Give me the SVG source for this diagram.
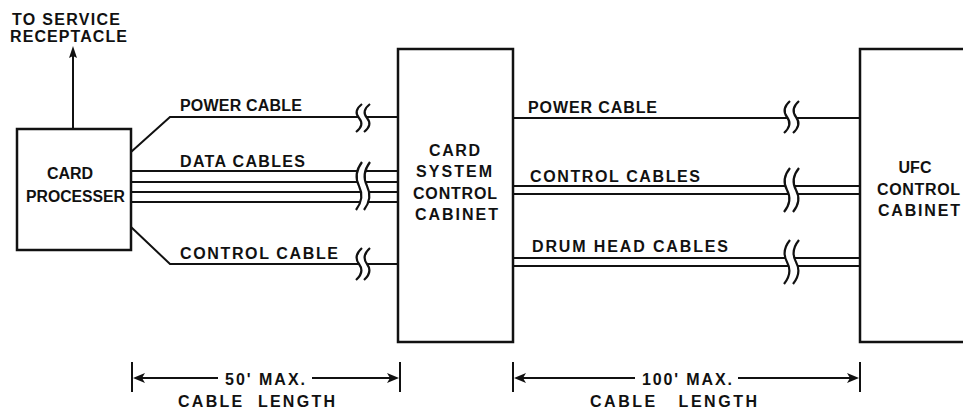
<svg xmlns="http://www.w3.org/2000/svg" width="963" height="415" viewBox="0 0 963 415">
<style>
.ln{fill:none;stroke:#111;stroke-width:2;stroke-linecap:butt}
.bx{fill:#fff;stroke:#111;stroke-width:2.5}
.t{font-family:"Liberation Sans",Arial,sans-serif;font-size:16px;font-weight:bold;fill:#111}
.pre{white-space:pre}
.brk{fill:none;stroke:#111;stroke-width:2.2}
.msk{fill:#fff;stroke:none}
.ah{fill:#111;stroke:none}
</style>
<rect width="963" height="415" fill="#fff"/>
<g id="connectors">
  <path class="ln" d="M73,129 V52"/>
  <polygon class="ah" points="73,46 77,58 73,56 69,58"/>
  <polyline class="ln" points="131,152 170,117 398,117"/>
  <path class="ln" d="M131,171 H398 M131,182 H398 M131,192 H398 M131,202 H398"/>
  <polyline class="ln" points="131,227 170,264 398,264"/>
  <path class="ln" d="M513,118 H860 M513,186 H860 M513,194 H860 M513,258 H860 M513,266 H860"/>
  <g id="breaks">
    <path class="msk" d="M362,104 Q353,111 359,118 Q365,125 356,132 L364,132 Q373,125 367,118 Q361,111 370,104 Z"/>
    <path class="brk" d="M362,104 Q353,111 359,118 Q365,125 356,132 M370,104 Q361,111 367,118 Q373,125 364,132"/>
    <path class="msk" d="M362,162 Q353,174 359,186 Q365,198 356,210 L364,210 Q373,198 367,186 Q361,174 370,162 Z"/>
    <path class="brk" d="M362,162 Q353,174 359,186 Q365,198 356,210 M370,162 Q361,174 367,186 Q373,198 364,210"/>
    <path class="msk" d="M362,248 Q353,256 359,264 Q365,272 356,280 L364,280 Q373,272 367,264 Q361,256 370,248 Z"/>
    <path class="brk" d="M362,248 Q353,256 359,264 Q365,272 356,280 M370,248 Q361,256 367,264 Q373,272 364,280"/>
    <path class="msk" d="M790,101 Q781,109 787,117 Q793,125 784,133 L793,133 Q802,125 796,117 Q790,109 799,101 Z"/>
    <path class="brk" d="M790,101 Q781,109 787,117 Q793,125 784,133 M799,101 Q790,109 796,117 Q802,125 793,133"/>
    <path class="msk" d="M790,168 Q781,179 787,190 Q793,201 784,212 L793,212 Q802,201 796,190 Q790,179 799,168 Z"/>
    <path class="brk" d="M790,168 Q781,179 787,190 Q793,201 784,212 M799,168 Q790,179 796,190 Q802,201 793,212"/>
    <path class="msk" d="M790,240 Q781,251 787,262 Q793,273 784,284 L793,284 Q802,273 796,262 Q790,251 799,240 Z"/>
    <path class="brk" d="M790,240 Q781,251 787,262 Q793,273 784,284 M799,240 Q790,251 796,262 Q802,273 793,284"/>
  </g>
  <g id="dimensions">
    <path class="ln" stroke-width="2.5" d="M132,362 V392 M400,362 V392 M513,362 V392 M860,362 V392"/>
    <path class="ln" d="M136,378 H218 M312,378 H396 M517,378 H635 M738,378 H856"/>
    <polygon class="ah" points="133,378 145,373 142,378 145,383"/>
    <polygon class="ah" points="399,378 387,373 390,378 387,383"/>
    <polygon class="ah" points="514,378 526,373 523,378 526,383"/>
    <polygon class="ah" points="859,378 847,373 850,378 847,383"/>
  </g>
</g>
<g id="card-processer">
  <rect class="bx" x="17" y="129" width="114" height="121"/>
  <text class="t" x="47" y="179" textLength="46" lengthAdjust="spacing">CARD</text>
  <text class="t" x="26" y="202" textLength="99" lengthAdjust="spacingAndGlyphs">PROCESSER</text>
</g>
<g id="service-label">
  <text class="t" x="12" y="25" textLength="108" lengthAdjust="spacing">TO SERVICE</text>
  <text class="t" x="10" y="42" textLength="117" lengthAdjust="spacing">RECEPTACLE</text>
</g>
<g id="card-system-control-cabinet">
  <rect class="bx" x="398" y="49" width="115" height="293"/>
  <text class="t" x="429" y="156" textLength="51" lengthAdjust="spacing">CARD</text>
  <text class="t" x="416" y="177" textLength="76" lengthAdjust="spacing">SYSTEM</text>
  <text class="t" x="413" y="199" textLength="84" lengthAdjust="spacing">CONTROL</text>
  <text class="t" x="415" y="220" textLength="83" lengthAdjust="spacing">CABINET</text>
</g>
<g id="ufc-control-cabinet">
  <rect class="bx" x="860" y="49" width="130" height="293"/>
  <text class="t" x="915" y="173" text-anchor="middle">UFC</text>
  <text class="t" x="877" y="195" textLength="83" lengthAdjust="spacing">CONTROL</text>
  <text class="t" x="878" y="216" textLength="82" lengthAdjust="spacing">CABINET</text>
</g>
<g id="labels">
  <text class="t" x="180" y="111" textLength="122" lengthAdjust="spacing">POWER CABLE</text>
  <text class="t" x="180" y="167" textLength="125" lengthAdjust="spacing">DATA CABLES</text>
  <text class="t" x="180" y="259" textLength="158" lengthAdjust="spacing">CONTROL CABLE</text>
  <text class="t" x="528" y="113" textLength="129" lengthAdjust="spacing">POWER CABLE</text>
  <text class="t" x="530" y="182" textLength="170" lengthAdjust="spacing">CONTROL CABLES</text>
  <text class="t" x="532" y="252" textLength="196" lengthAdjust="spacing">DRUM HEAD CABLES</text>
  <text class="t" x="225" y="385" textLength="80" lengthAdjust="spacing">50' MAX.</text>
  <text class="t pre" x="178" y="407" textLength="157" lengthAdjust="spacing">CABLE  LENGTH</text>
  <text class="t" x="642" y="385" textLength="90" lengthAdjust="spacing">100' MAX.</text>
  <text class="t pre" x="590" y="407" textLength="167" lengthAdjust="spacing">CABLE   LENGTH</text>
</g>
</svg>
